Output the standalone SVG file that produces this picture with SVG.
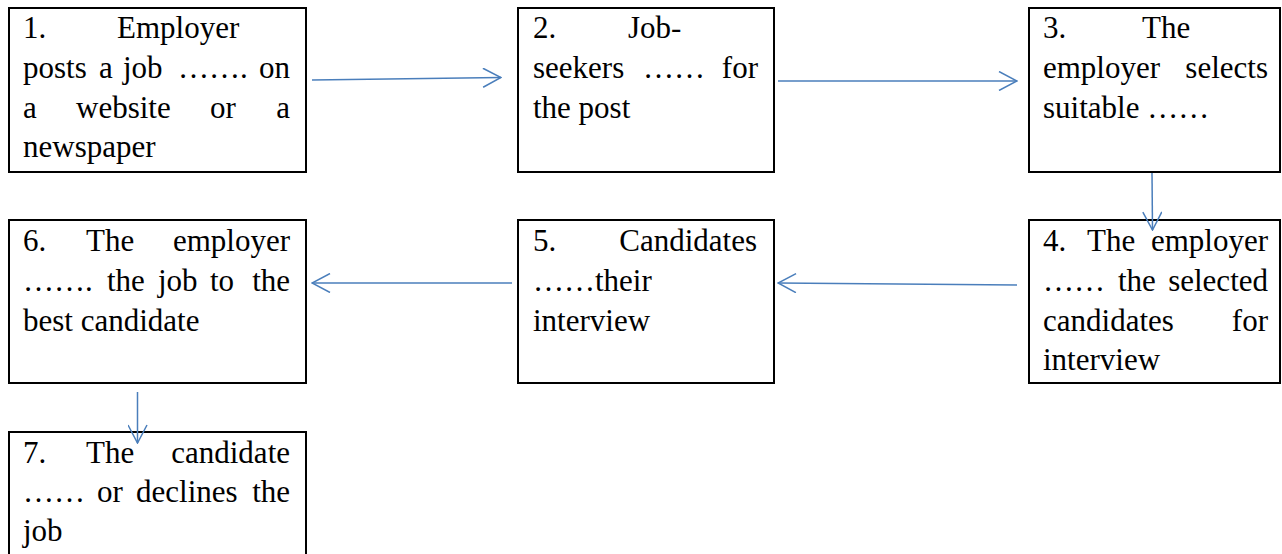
<svg xmlns="http://www.w3.org/2000/svg" width="1282" height="554" viewBox="0 0 1282 554">
<style>
.box{fill:#fff;stroke:#000;stroke-width:2}
.t{font-family:'Liberation Serif','Times New Roman',serif;font-size:31px;fill:#000}
.e{text-anchor:end}
.c{fill:none;stroke:#4a7ebb;stroke-width:1.5}
</style>
<defs>
<marker id="ah" viewBox="0 0 20 20" refX="19" refY="10" markerWidth="20" markerHeight="20" markerUnits="userSpaceOnUse" orient="auto">
<path d="M1,0.5 L19,10 L1,19.5" fill="none" stroke="#4a7ebb" stroke-width="1.5"/>
</marker>
</defs>
<rect width="1282" height="554" fill="#fff"/>

<g id="node1">
<rect class="box" x="9" y="8" width="297" height="164"/>
<text class="t" y="38"><tspan x="23">1.</tspan><tspan x="117">Employer</tspan></text>
<text class="t" y="78"><tspan x="23">posts</tspan><tspan x="99">a</tspan><tspan x="123">job</tspan><tspan x="178">…….</tspan></text>
<text class="t e" x="290" y="78">on</text>
<text class="t" y="118"><tspan x="23">a</tspan><tspan x="76">website</tspan><tspan x="210">or</tspan></text>
<text class="t e" x="290" y="118">a</text>
<text class="t" x="23" y="157">newspaper</text>
</g>

<g id="node2">
<rect class="box" x="518" y="8" width="256" height="164"/>
<text class="t" y="38"><tspan x="533">2.</tspan><tspan x="628">Job-</tspan></text>
<text class="t" y="78"><tspan x="533">seekers</tspan><tspan x="643">……</tspan></text>
<text class="t e" x="758" y="78">for</text>
<text class="t" x="533" y="118">the post</text>
</g>

<g id="node3">
<rect class="box" x="1029" y="8" width="251" height="164"/>
<text class="t" y="38"><tspan x="1043">3.</tspan><tspan x="1142">The</tspan></text>
<text class="t" x="1043" y="78">employer</text>
<text class="t e" x="1268" y="78">selects</text>
<text class="t" x="1043" y="118">suitable ……</text>
</g>

<g id="node4">
<rect class="box" x="1029" y="220" width="251" height="163"/>
<text class="t" y="251"><tspan x="1043">4.</tspan><tspan x="1087">The</tspan></text>
<text class="t e" x="1268" y="251">employer</text>
<text class="t" y="291"><tspan x="1043">……</tspan><tspan x="1118">the</tspan></text>
<text class="t e" x="1268" y="291">selected</text>
<text class="t" x="1043" y="331">candidates</text>
<text class="t e" x="1268" y="331">for</text>
<text class="t" x="1043" y="370">interview</text>
</g>

<g id="node5">
<rect class="box" x="518" y="220" width="256" height="163"/>
<text class="t" x="533" y="251">5.</text>
<text class="t e" x="757" y="251">Candidates</text>
<text class="t" x="533" y="291">……their</text>
<text class="t" x="533" y="331">interview</text>
</g>

<g id="node6">
<rect class="box" x="9" y="220" width="297" height="163"/>
<text class="t" y="251"><tspan x="23">6.</tspan><tspan x="86">The</tspan></text>
<text class="t e" x="290" y="251">employer</text>
<text class="t" y="291"><tspan x="23">…….</tspan><tspan x="107">the</tspan><tspan x="158">job</tspan><tspan x="210">to</tspan></text>
<text class="t e" x="290" y="291">the</text>
<text class="t" x="23" y="331">best candidate</text>
</g>

<g id="node7">
<rect class="box" x="9" y="432" width="297" height="130"/>
<text class="t" y="463"><tspan x="23">7.</tspan><tspan x="86">The</tspan></text>
<text class="t e" x="290" y="463">candidate</text>
<text class="t" y="502"><tspan x="23">……</tspan><tspan x="97">or</tspan><tspan x="136">declines</tspan></text>
<text class="t e" x="290" y="502">the</text>
<text class="t" x="23" y="541">job</text>
</g>

<g id="connectors">
<line class="c" x1="312" y1="80" x2="501" y2="77.5" marker-end="url(#ah)"/>
<line class="c" x1="778" y1="81" x2="1017" y2="81" marker-end="url(#ah)"/>
<line class="c" x1="1152" y1="173" x2="1152.5" y2="230" marker-end="url(#ah)"/>
<line class="c" x1="1017" y1="285" x2="778" y2="283" marker-end="url(#ah)"/>
<line class="c" x1="512" y1="283" x2="312" y2="283" marker-end="url(#ah)"/>
<line class="c" x1="137.5" y1="392" x2="137.5" y2="443" marker-end="url(#ah)"/>
</g>
</svg>
